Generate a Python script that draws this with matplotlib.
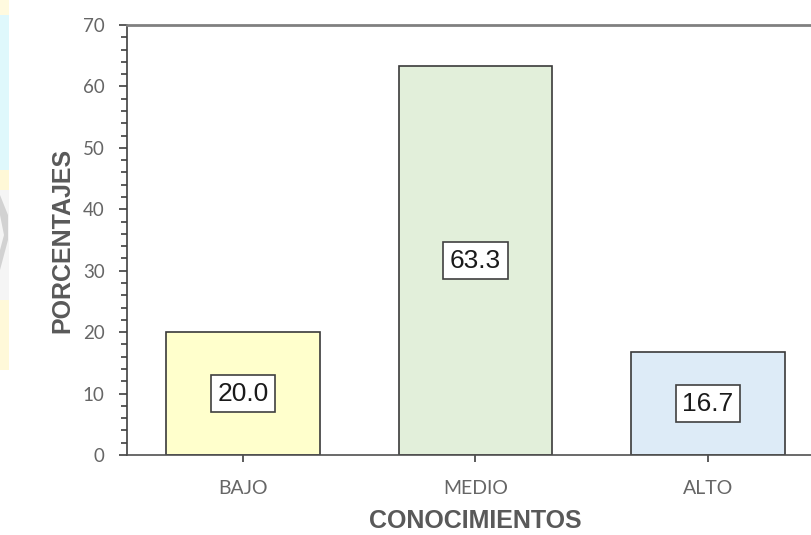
import matplotlib.pyplot as plt
import matplotlib.patches as mpatches
from matplotlib.ticker import MultipleLocator
import numpy as np

# datos del grafico
niveles = ["BAJO", "MEDIO", "ALTO"]
porcentajes = [20.0, 63.3, 16.7]
colores = ["#FFFFCC", "#E2EFDA", "#DDEBF7"]

W, H = 812, 535
fig = plt.figure(figsize=(W / 100, H / 100), dpi=100)
ax = fig.add_axes([127 / W, 80 / H, 697 / W, 430 / H])

x = np.arange(len(niveles))
barras = ax.bar(x, porcentajes, width=0.66, color=colores,
                edgecolor="#3a3a3a", linewidth=1.2, zorder=2)

# etiquetas con el valor dentro de cada barra
for b, v in zip(barras, porcentajes):
    ax.text(b.get_x() + b.get_width() / 2, v / 2, "%.1f" % v,
            ha="center", va="center", fontsize=19, color="#1a1a1a",
            family="Liberation Sans", zorder=3,
            bbox=dict(boxstyle="square,pad=0.25", fc="white",
                      ec="#404040", lw=1.2))

ax.set_xlim(-0.5, 2.5)
ax.set_ylim(0, 70)
ax.set_xticks(x)
ax.set_xticklabels(niveles, family="Lato", fontsize=14, color="#666666")
ax.yaxis.set_major_locator(MultipleLocator(10))
ax.yaxis.set_minor_locator(MultipleLocator(2))
for t in ax.get_yticklabels():
    t.set_family("Lato")
    t.set_fontsize(13.5)
    t.set_color("#666666")

ax.tick_params(axis="y", which="major", length=6, width=1.2, color="#404040", pad=10)
ax.tick_params(axis="y", which="minor", length=4, width=1.2, color="#404040")
ax.tick_params(axis="x", length=5, width=1.2, color="#404040", pad=13)

ax.spines["right"].set_visible(False)
ax.spines["top"].set_color("#808080")
ax.spines["top"].set_linewidth(2)
ax.spines["left"].set_color("#404040")
ax.spines["left"].set_linewidth(1.2)
ax.spines["bottom"].set_color("#505050")
ax.spines["bottom"].set_linewidth(1.2)

ax.set_ylabel("PORCENTAJES", family="Liberation Sans", fontsize=18,
              fontweight="bold", color="#595959", labelpad=6)
ax.set_xlabel("CONOCIMIENTOS", family="Liberation Sans", fontsize=18,
              fontweight="bold", color="#595959", labelpad=9)

# marca de agua en el borde izquierdo
def franja(y0, y1, color, alpha):
    fig.add_artist(mpatches.Rectangle((0, (H - y1) / H), 9 / W, (y1 - y0) / H,
                                      transform=fig.transFigure, fc=color,
                                      ec="none", alpha=alpha))

franja(0, 15, "#FFF3B0", 0.4)
franja(15, 170, "#D2F6FB", 0.7)
franja(170, 190, "#FFF3B0", 0.5)
franja(190, 300, "#F2F2F2", 0.7)
franja(300, 370, "#FFF6C0", 0.6)
fig.add_artist(mpatches.Polygon(
    [(0, (H - 195) / H), (8 / W, (H - 215) / H), (8 / W, (H - 240) / H),
     (0, (H - 270) / H), (0, (H - 250) / H), (4 / W, (H - 235) / H), (0, (H - 215) / H)],
    closed=True, transform=fig.transFigure, fc="#C4C4C4", ec="none", alpha=0.7))

fig.savefig("out.png", dpi=100)
